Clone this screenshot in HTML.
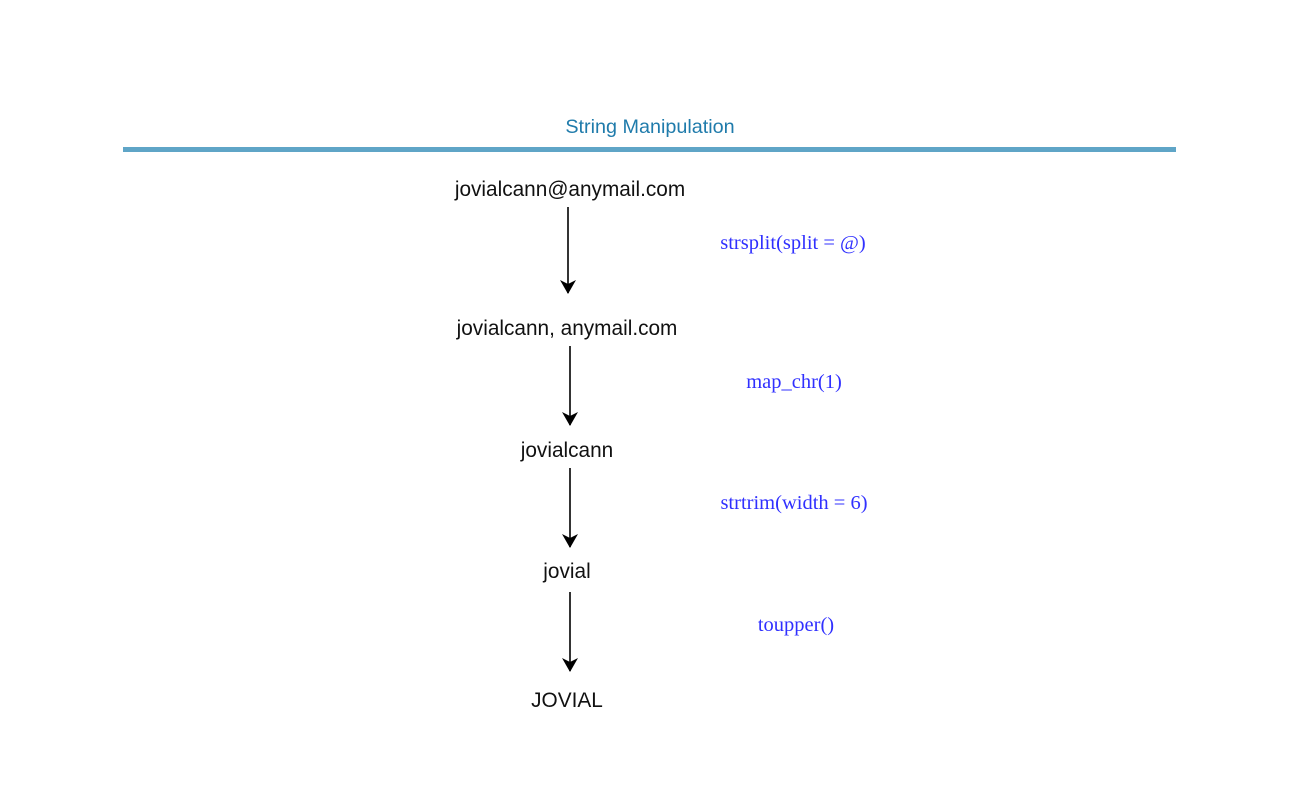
<!DOCTYPE html>
<html><head><style>
body{margin:0;width:1300px;height:800px;background:#fff;overflow:hidden}
svg{display:block}
.b{font-family:"Liberation Sans",sans-serif;font-size:20.8px;fill:#111}
.s{font-family:"Liberation Serif",serif;font-size:20.5px;fill:#3030ff}
</style></head><body>
<svg width="1300" height="800" xmlns="http://www.w3.org/2000/svg">
<defs>
<marker id="h" viewBox="0 0 16 16" markerWidth="16" markerHeight="16" refX="8" refY="15" orient="0" markerUnits="userSpaceOnUse"><path d="M0,2 L8,6 L16,2 L8,16 z" fill="#000"/></marker></defs>
<text x="650" y="133" text-anchor="middle" font-family="Liberation Sans,sans-serif" font-size="19.8" fill="#1f7bab">String Manipulation</text>
<rect x="123" y="147" width="1053" height="5" fill="#5fa5c7"/>
<text class="b" x="570" y="196" text-anchor="middle">jovialcann@anymail.com</text>
<text class="b" x="567" y="335" text-anchor="middle">jovialcann, anymail.com</text>
<text class="b" x="567" y="457" text-anchor="middle">jovialcann</text>
<text class="b" x="567" y="578" text-anchor="middle">jovial</text>
<text class="b" x="567" y="707" text-anchor="middle">JOVIAL</text>
<g stroke="#000" stroke-width="1.6" marker-end="url(#h)">
<line x1="568" y1="207" x2="568" y2="293"/>
<line x1="570" y1="346" x2="570" y2="425"/>
<line x1="570" y1="468" x2="570" y2="547"/>
<line x1="570" y1="592" x2="570" y2="671"/>
</g>
<text class="s" x="793" y="249" text-anchor="middle">strsplit(split = @)</text>
<text class="s" x="794" y="388" text-anchor="middle">map_chr(1)</text>
<text class="s" x="794" y="509" text-anchor="middle">strtrim(width = 6)</text>
<text class="s" x="796" y="631" text-anchor="middle">toupper()</text>
</svg>
</body></html>
